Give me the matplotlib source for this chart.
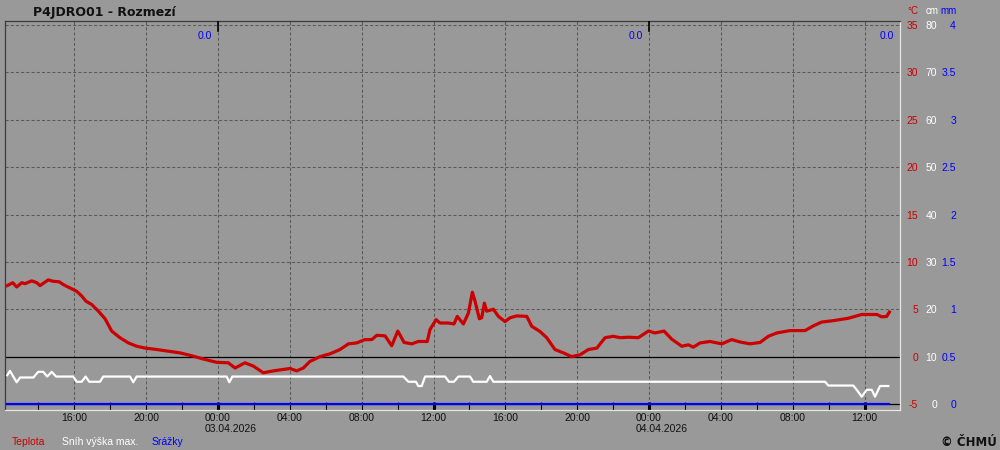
"""
Station chart P4JDRO01 - Rozmezi: temperature, snow depth and precipitation.
"""

import datetime as dt

import matplotlib
matplotlib.use("Agg")
import matplotlib.pyplot as plt
import matplotlib.transforms as mtransforms
import numpy as np

# --- data (hours relative to 03.04.2026 00:00) ---
temp_hours = [-11.73, -11.43, -11.21, -10.93, -10.75, -10.37, -10.09, -9.91, -9.45, -9.17,
              -8.84, -8.61, -8.24, -7.87, -7.59, -7.35, -7.03, -6.66, -6.29, -5.92,
              -5.46, -4.99, -4.53, -4.05, -3.41, -2.67, -2.12, -1.38, -0.82, -0.07,
              0.57, 0.95, 1.50, 1.97, 2.52, 3.08, 3.64, 4.01, 4.38, 4.75,
              5.12, 5.68, 6.24, 6.79, 7.26, 7.72, 8.18, 8.56, 8.84, 9.30,
              9.67, 10.01, 10.36, 10.79, 11.15, 11.65, 11.80, 12.14, 12.36, 12.82,
              13.14, 13.32, 13.66, 13.94, 14.16, 14.31, 14.55, 14.68, 14.83, 14.96,
              15.33, 15.61, 15.98, 16.26, 16.63, 17.19, 17.47, 17.93, 18.30, 18.76,
              19.23, 19.69, 20.16, 20.62, 21.09, 21.55, 22.01, 22.38, 22.85, 23.40,
              23.96, 24.33, 24.83, 25.26, 25.82, 26.19, 26.46, 26.84, 27.39, 28.05,
              28.60, 29.06, 29.62, 30.18, 30.64, 31.11, 31.85, 32.68, 33.15, 33.61,
              34.26, 35.09, 35.84, 36.68, 36.95, 37.23, 37.38]
temp_c = [7.5, 7.8, 7.35, 7.8, 7.7, 8.0, 7.8, 7.5, 8.1, 7.95,
          7.9, 7.6, 7.25, 6.9, 6.4, 5.85, 5.5, 4.8, 4.0, 2.7,
          2.0, 1.45, 1.1, 0.9, 0.75, 0.55, 0.4, 0.05, -0.25, -0.6,
          -0.65, -1.2, -0.65, -1.0, -1.7, -1.5, -1.35, -1.25, -1.5, -1.2,
          -0.5, 0.0, 0.3, 0.75, 1.35, 1.45, 1.8, 1.8, 2.25, 2.2,
          1.15, 2.7, 1.5, 1.35, 1.6, 1.6, 2.85, 3.9, 3.55, 3.55,
          3.45, 4.25, 3.45, 4.6, 6.8, 5.85, 4.0, 4.1, 5.65, 4.8,
          5.0, 4.25, 3.7, 4.1, 4.3, 4.25, 3.2, 2.65, 2.0, 0.75,
          0.4, 0.0, 0.2, 0.75, 0.9, 2.0, 2.15, 2.0, 2.05, 2.0,
          2.7, 2.5, 2.7, 1.85, 1.1, 1.25, 1.0, 1.45, 1.6, 1.35,
          1.8, 1.55, 1.35, 1.5, 2.15, 2.5, 2.75, 2.75, 3.25, 3.65,
          3.8, 4.05, 4.45, 4.45, 4.2, 4.25, 4.7]

snow_hours = [-11.73, -11.58, -11.40, -11.21, -11.02, -10.28, -10.01, -9.73, -9.51, -9.26,
              -9.02, -8.06, -7.87, -7.59, -7.37, -7.17, -6.57, -6.39, -4.90, -4.72,
              -4.53, 0.48, 0.63, 0.80, 10.32, 10.60, 11.02, 11.15, 11.34, 11.53,
              12.64, 12.86, 13.14, 13.38, 14.03, 14.21, 14.96, 15.14, 15.33, 33.80,
              33.98, 35.37, 35.56, 35.84, 36.12, 36.40, 36.58, 36.86, 37.32]
snow_cm = [6.1, 7.0, 5.8, 4.6, 5.6, 5.6, 6.8, 6.8, 5.8, 6.8,
           5.8, 5.8, 4.7, 4.7, 5.8, 4.7, 4.7, 5.8, 5.8, 4.6,
           5.8, 5.8, 4.6, 5.8, 5.8, 4.7, 4.7, 3.8, 3.8, 5.8,
           5.8, 4.7, 4.7, 5.8, 5.8, 4.7, 4.7, 5.9, 4.7, 4.7,
           3.9, 3.9, 3.0, 1.55, 3.0, 3.0, 1.55, 3.8, 3.8]

precip_hours = [-11.73, 37.38]
precip_mm = [0.0, 0.0]

day_ends = [0, 24, 48]
daily_precip = [0.0, 0.0, 0.0]

temp_ticks = [35, 30, 25, 20, 15, 10, 5, 0, -5]
snow_ticks = ["80", "70", "60", "50", "40", "30", "20", "10", "0"]
rain_ticks = ["4", "3.5", "3", "2.5", "2", "1.5", "1", "0.5", "0"]

start_day = dt.date(2026, 4, 3)

# --- styles ---
BG = "#999999"
RED = "#cc0000"
BLUE = "#0000ff"
WHITE = "#ffffff"
GRID = "#5a5a5a"
SMALL = dict(fontsize=7.5, family="Liberation Sans")
HEAD = dict(fontsize=7, family="Liberation Sans")

# pixel geometry of the plot frame
LEFT, RIGHT, TOP, BOTTOM = 5, 900, 21, 410
W, H = 1000, 450

fig = plt.figure(figsize=(10, 4.5), dpi=100, facecolor=BG)
ax = fig.add_axes([LEFT / W, 1 - BOTTOM / H, (RIGHT - LEFT) / W, (BOTTOM - TOP) / H],
                  facecolor=BG)
ax.set_xlim(-11.86, 37.97)
ax.set_ylim(-5.63, 35.42)


def ax_x(px):
    return (px - LEFT) / (RIGHT - LEFT)


def ax_y(py):
    return (BOTTOM - py) / (BOTTOM - TOP)


# snow (cm) and precipitation (mm) share the temperature scale
def cm_to_c(v):
    return np.asarray(v) / 2.0 - 5


def mm_to_c(v):
    return np.asarray(v) * 10.0 - 5


# grid
dash = dict(color=GRID, lw=0.75, ls=(0, (3, 2)), zorder=1)
for v in temp_ticks[:-2]:
    ax.axhline(v, **dash)
for h in np.arange(-8, 38, 4):
    ax.axvline(h, **dash)
ax.axhline(0, color="black", lw=0.9, zorder=2)
ax.axhline(-5, color="black", lw=0.9, zorder=2)

# series
ax.plot(snow_hours, cm_to_c(snow_cm), color=WHITE, lw=1.6, zorder=3)
ax.plot(temp_hours, temp_c, color=RED, lw=2.3, zorder=4)
ax.plot(precip_hours, mm_to_c(precip_mm), color=BLUE, lw=1.6, zorder=5, clip_on=False)

# midnight markers on top edge
for d in day_ends[:-1]:
    ax.axvline(d, ymin=ax_y(31), ymax=1, color="black", lw=1.2, zorder=5)

# daily precipitation sums
xmax = ax.get_xlim()[1]
shift = mtransforms.ScaledTranslation(-6 / 100, 0, fig.dpi_scale_trans)
for d, p in zip(day_ends, daily_precip):
    ax.text(min(d, xmax), ax_y(38.7), f"{p:.1f}", color=BLUE, ha="right",
            va="baseline", transform=ax.get_xaxis_transform() + shift, **SMALL)

# frame
for side in ("left", "top"):
    ax.spines[side].set_color("#3c3c3c")
for side in ("right", "bottom"):
    ax.spines[side].set_color("#e6e6e6")
for s in ax.spines.values():
    s.set_linewidth(0.9)

# x ticks every 2 h, labels every 4 h
xticks = np.arange(-10, 38, 2)
labels = []
for h in xticks:
    if h % 4:
        labels.append("")
        continue
    txt = f"{int(h % 24):02d}:00"
    if h % 24 == 0:
        day = start_day + dt.timedelta(days=int(h // 24))
        txt += "\n" + day.strftime("%d.%m.%Y")
    labels.append(txt)
ax.set_xticks(xticks)
ax.set_xticklabels(labels, ha="left", multialignment="left", linespacing=1.1, **SMALL)
ax.tick_params(axis="x", direction="in", length=5.8, width=0.8, color="black",
               labelcolor="#111111", pad=2)
ax.set_yticks([])
for tick, h in zip(ax.xaxis.get_major_ticks(), xticks):
    if h % 12 == 0:
        tick.tick1line.set_markeredgewidth(2.2)
lab_shift = mtransforms.ScaledTranslation(-13 / 100, 0, fig.dpi_scale_trans)
for lab in ax.get_xticklabels():
    lab.set_transform(lab.get_transform() + lab_shift)

# right hand scales
yt = ax.get_yaxis_transform()
for v, s, r in zip(temp_ticks, snow_ticks, rain_ticks):
    ax.text(ax_x(918), v, str(v), color=RED, ha="right",
            va="center_baseline", transform=yt, **SMALL)
    ax.text(ax_x(937), v, s, color=WHITE, ha="right",
            va="center_baseline", transform=yt, **SMALL)
    ax.text(ax_x(956), v, r, color=BLUE, ha="right",
            va="center_baseline", transform=yt, **SMALL)

fig.text(918 / W, 1 - 14 / H, "°C", color=RED, ha="right", va="baseline", **HEAD)
fig.text(938.5 / W, 1 - 14 / H, "cm", color=WHITE, ha="right", va="baseline", **HEAD)
fig.text(956.5 / W, 1 - 14 / H, "mm", color=BLUE, ha="right", va="baseline", **HEAD)

# title, legend, copyright
fig.text(33 / W, 1 - 15.7 / H, "P4JDRO01 - Rozmezí", fontsize=9, fontweight="bold",
         color="#111111", va="baseline")
fig.text(12 / W, 1 - 445 / H, "Teplota", color=RED, va="baseline", **SMALL)
fig.text(62 / W, 1 - 445 / H, "Sníh výška max.", color=WHITE, va="baseline", **SMALL)
fig.text(152 / W, 1 - 445 / H, "Srážky", color=BLUE, va="baseline", **SMALL)
fig.text(997 / W, 1 - 445.5 / H, "© ČHMÚ", fontsize=8.5, fontweight="bold",
         color="#111111", ha="right", va="baseline")

fig.savefig("out.png", dpi=100, facecolor=BG)
